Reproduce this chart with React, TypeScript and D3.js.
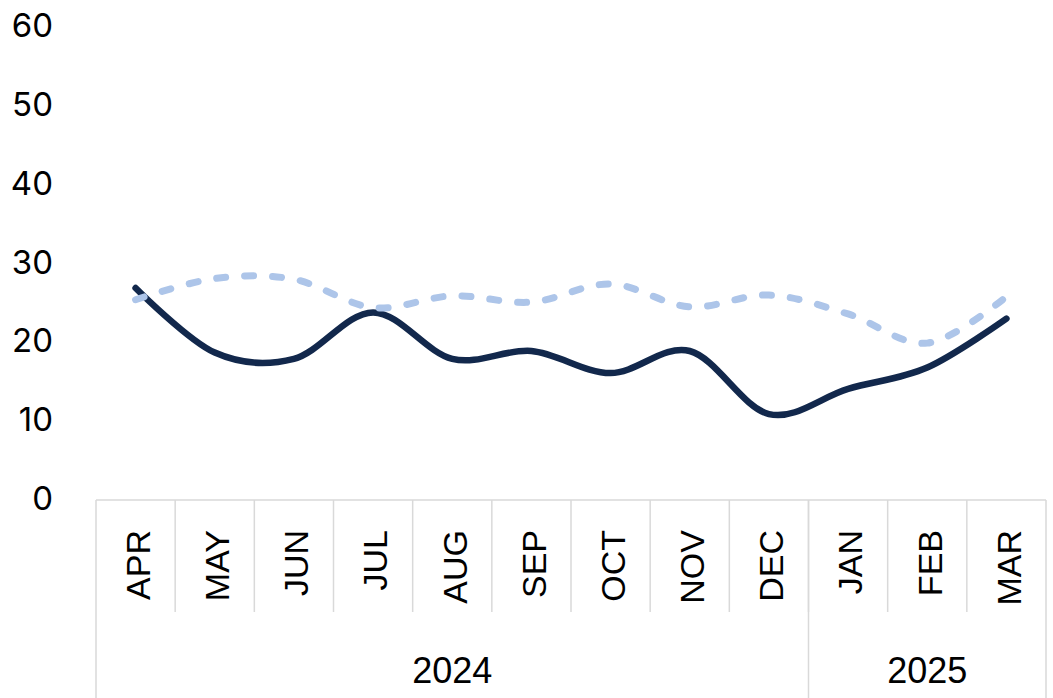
import React from "react";
import * as d3 from "d3";

const months = ["APR", "MAY", "JUN", "JUL", "AUG", "SEP", "OCT", "NOV", "DEC", "JAN", "FEB", "MAR"];
const years = [
  { label: "2024", start: 0, end: 9 },
  { label: "2025", start: 9, end: 12 },
];
const seriesDark = [26.9, 18.7, 17.9, 23.8, 17.9, 18.9, 16.1, 18.9, 10.9, 14.1, 16.8, 23.0];
const seriesLight = [25.4, 28.1, 28.0, 24.4, 25.9, 25.1, 27.4, 24.5, 26.0, 23.6, 19.9, 25.8];
const yTicks = [0, 10, 20, 30, 40, 50, 60];

const W = 1053;
const H = 698;
const left = 96;
const right = 1046;
const axisTop = 500;
const monthBottom = 612;

export default function App() {
  const x = d3.scaleBand<string>().domain(months).range([left, right]).padding(0);
  const y = d3.scaleLinear().domain([0, 60]).range([500, 27]);
  const cx = (i: number) => (x(months[i]) as number) + x.bandwidth() / 2;

  const line = d3
    .line<number>()
    .x((_, i) => cx(i))
    .y((d) => y(d))
    .curve(d3.curveCardinal.tension(0));

  const gray = "#d9d9d9";
  const bw = x.bandwidth();

  return (
    <svg
      width={W}
      height={H}
      style={{ position: "absolute", left: 0, top: 0, background: "#fff" }}
    >
      {yTicks.map((t) => (
        <text
          key={t}
          x={53}
          y={y(t) - 2}
          textAnchor="end"
          dominantBaseline="central"
          fontFamily="Inter, 'Open Sans', sans-serif"
          fontSize={33}
          fill="#000"
        >
          {t}
        </text>
      ))}

      {/* category axis boxes */}
      <line x1={left} x2={right} y1={axisTop} y2={axisTop} stroke={gray} strokeWidth={1.5} />
      <line x1={left} x2={left} y1={axisTop} y2={H} stroke={gray} strokeWidth={1.5} />
      <line x1={right} x2={right} y1={axisTop} y2={H} stroke={gray} strokeWidth={1.5} />
      {months.slice(1).map((m) => (
        <line
          key={m}
          x1={x(m) as number}
          x2={x(m) as number}
          y1={axisTop}
          y2={monthBottom}
          stroke={gray}
          strokeWidth={1.5}
        />
      ))}
      {years.slice(1).map((yr) => (
        <line
          key={yr.label}
          x1={left + yr.start * bw}
          x2={left + yr.start * bw}
          y1={axisTop}
          y2={H}
          stroke={gray}
          strokeWidth={1.5}
        />
      ))}

      {months.map((m, i) => (
        <text
          key={m}
          transform={`translate(${cx(i) + 2},530) rotate(-90)`}
          textAnchor="end"
          dy="0.36em"
          fontFamily="'Liberation Sans', Arial, sans-serif"
          fontSize={34}
          fill="#000"
        >
          {m}
        </text>
      ))}

      {years.map((yr) => (
        <text
          key={yr.label}
          x={left + ((yr.start + yr.end) / 2) * bw}
          y={683}
          textAnchor="middle"
          fontFamily="'Liberation Sans', Arial, sans-serif"
          fontSize={36}
          fill="#000"
        >
          {yr.label}
        </text>
      ))}

      <path
        d={line(seriesDark) || ""}
        fill="none"
        stroke="#12284c"
        strokeWidth={6.5}
        strokeLinecap="round"
        strokeLinejoin="round"
      />
      <path
        d={line(seriesLight) || ""}
        fill="none"
        stroke="#adc5e9"
        strokeWidth={7}
        strokeDasharray="9 19"
        strokeLinecap="round"
        strokeLinejoin="round"
      />
    </svg>
  );
}
